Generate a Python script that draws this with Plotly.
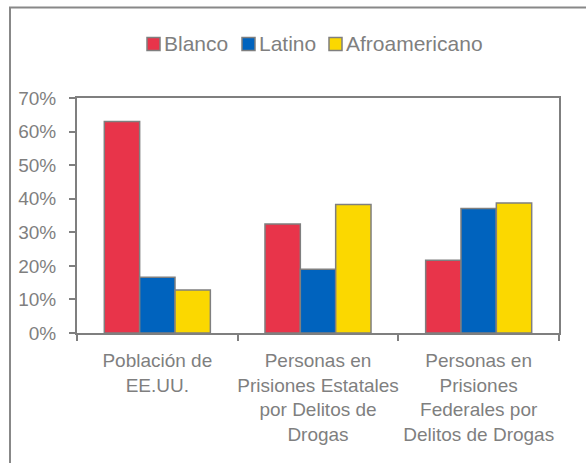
import plotly.graph_objects as go

categories = [
    "Población de<br>EE.UU.",
    "Personas en<br>Prisiones Estatales<br>por Delitos de<br>Drogas",
    "Personas en<br>Prisiones<br>Federales por<br>Delitos de Drogas",
]
series_names = ["Blanco", "Latino", "Afroamericano"]
blanco = [0.63, 0.325, 0.217]
latino = [0.166, 0.19, 0.371]
afro = [0.128, 0.383, 0.387]
colors = ["#E8344A", "#0063BE", "#FBD800"]
y_ticks = [0, 0.1, 0.2, 0.3, 0.4, 0.5, 0.6, 0.7]

W, H = 586, 463
L, R, T, B = 77, 27, 98, 130
pw, ph = W - L - R, H - T - B
gray = "#7f7f7f"

# legend layout (pixel positions of legend entry text, top legend row)
legend_text_px = [162, 257, 344]
legend_y_px = 44
sq = 13

fig = go.Figure()
for name, vals, col in zip(series_names, [blanco, latino, afro], colors):
    fig.add_trace(go.Bar(
        x=categories, y=vals, name=name, showlegend=False,
        marker=dict(color=col, line=dict(color=gray, width=1.5)),
    ))

def px_x(p):
    return (p - L) / pw

def px_y(p):
    return (H - B - p) / ph

shapes = [dict(type="rect", xref="paper", yref="paper",
               x0=px_x(10), x1=1.3, y0=-0.8, y1=px_y(7.5),
               line=dict(color="#888888", width=2), layer="below")]
annotations = []
for name, col, tx in zip(series_names, colors, legend_text_px):
    shapes.append(dict(type="rect", xref="paper", yref="paper",
                       x0=px_x(tx - sq - 2), x1=px_x(tx - 2),
                       y0=px_y(legend_y_px + sq / 2), y1=px_y(legend_y_px - sq / 2),
                       fillcolor=col, line=dict(color=gray, width=1.5)))
    annotations.append(dict(text=name, xref="paper", yref="paper",
                            x=px_x(tx), y=px_y(legend_y_px),
                            xanchor="left", yanchor="middle", showarrow=False,
                            font=dict(size=21, color=gray)))

fig.update_layout(
    width=W, height=H,
    margin=dict(l=L, r=R, t=T, b=B, autoexpand=False),
    paper_bgcolor="white", plot_bgcolor="white",
    barmode="group", bargap=0.34, bargroupgap=0,
    font=dict(family="Liberation Sans, Arial, sans-serif", color=gray, size=19),
    showlegend=False,
    xaxis=dict(showline=True, linecolor=gray, linewidth=2, mirror=True,
               ticks="outside", tickson="boundaries", ticklen=6,
               tickcolor=gray, tickwidth=2, showgrid=False,
               tickangle=0, automargin=False, ticklabelstandoff=9,
               tickfont=dict(size=19, color=gray)),
    yaxis=dict(range=[0, 0.7], tickvals=y_ticks, tickformat=".0%",
               showline=True, linecolor=gray, linewidth=2, mirror=True,
               ticks="outside", ticklen=6, tickcolor=gray, tickwidth=2,
               showgrid=False, zeroline=False, automargin=False,
               ticklabelstandoff=9,
               tickfont=dict(size=19, color=gray)),
    shapes=shapes,
    annotations=annotations,
)

fig.write_html("out.html", config={"displayModeBar": False},
               post_script="document.body.style.margin='0';")
